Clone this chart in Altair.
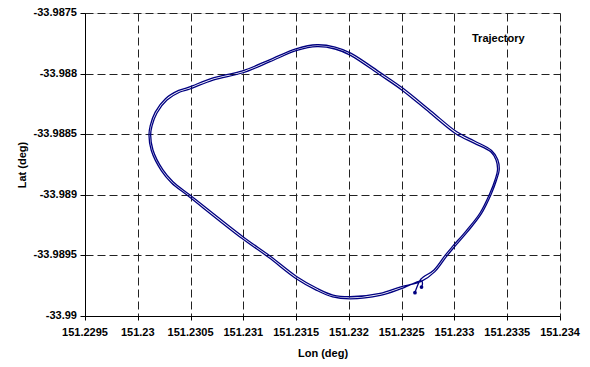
import altair as alt
import pandas as pd

# GPS trajectory: lead-in, two laps of the circuit, and the closing tail
lead_lon = [151.232626, 151.232645]
lead_lat = [-33.989808, -33.989761]

lap1_lon = [151.232683, 151.232806, 151.232911, 151.232986, 151.233109, 151.233242,
            151.233337, 151.233384, 151.233408, 151.233394, 151.233346, 151.233185,
            151.233015, 151.232768, 151.232500, 151.232295, 151.232011, 151.231868,
            151.231698, 151.231508, 151.231253, 151.230997, 151.230713, 151.230495,
            151.230400, 151.230277, 151.230182, 151.230135, 151.230122, 151.230144,
            151.230239, 151.230334, 151.230495, 151.230997, 151.231253, 151.231508,
            151.231698, 151.231850, 151.232011, 151.232295, 151.232484]
lap1_lat = [-33.989695, -33.989620, -33.989500, -33.989422, -33.989299, -33.989150,
            -33.988985, -33.988878, -33.988795, -33.988713, -33.988647, -33.988573,
            -33.988498, -33.988325, -33.988135, -33.988012, -33.987847, -33.987797,
            -33.987778, -33.987809, -33.987902, -33.987993, -33.988053, -33.988127,
            -33.988152, -33.988218, -33.988325, -33.988432, -33.988507, -33.988630,
            -33.988795, -33.988892, -33.989002, -33.989346, -33.989505, -33.989676,
            -33.989771, -33.989827, -33.989841, -33.989813, -33.989761]

lap2_lon = [151.232690, 151.232815, 151.232922, 151.232998, 151.233121, 151.233254,
            151.233350, 151.233398, 151.233424, 151.233410, 151.233352, 151.233190,
            151.233022, 151.232778, 151.232510, 151.232305, 151.232018, 151.231870,
            151.231698, 151.231505, 151.231248, 151.230992, 151.230706, 151.230484,
            151.230387, 151.230262, 151.230165, 151.230118, 151.230106, 151.230128,
            151.230224, 151.230320, 151.230483, 151.230985, 151.231241, 151.231497,
            151.231690, 151.231846, 151.232011, 151.232298, 151.232490]
lap2_lat = [-33.989712, -33.989634, -33.989512, -33.989432, -33.989308, -33.989158,
            -33.988991, -33.988880, -33.988795, -33.988708, -33.988634, -33.988556,
            -33.988480, -33.988308, -33.988119, -33.987996, -33.987831, -33.987781,
            -33.987762, -33.987793, -33.987886, -33.987977, -33.988037, -33.988112,
            -33.988139, -33.988207, -33.988318, -33.988430, -33.988507, -33.988634,
            -33.988802, -33.988902, -33.989014, -33.989359, -33.989518, -33.989690,
            -33.989786, -33.989843, -33.989858, -33.989830, -33.989777]

tail_lon = [151.232690, 151.232697, 151.232688]
tail_lat = [-33.989712, -33.989736, -33.989761]

lon_ticks = [151.2295, 151.23, 151.2305, 151.231, 151.2315, 151.232,
             151.2325, 151.233, 151.2335, 151.234]
lat_ticks = [-33.9875, -33.988, -33.9885, -33.989, -33.9895, -33.99]
lon_tick_labels = ["151.2295", "151.23", "151.2305", "151.231", "151.2315",
                   "151.232", "151.2325", "151.233", "151.2335", "151.234"]
lat_tick_labels = ["-33.9875", "-33.988", "-33.9885", "-33.989", "-33.9895", "-33.99"]

lons = lead_lon + lap1_lon + lap2_lon + tail_lon
lats = lead_lat + lap1_lat + lap2_lat + tail_lat
df = pd.DataFrame({
    "lon": lons,
    "lat": lats,
    "seq": list(range(len(lons))),
    "series": ["Trajectory"] * len(lons),
})
xticks_df = pd.DataFrame({"lon": lon_ticks, "label": lon_tick_labels})
yticks_df = pd.DataFrame({"lat": lat_ticks, "label": lat_tick_labels})

FONT = "Liberation Sans"
NAVY = "#000080"
PLOT_W, PLOT_H = 475, 303


def axis_style(title, values, tick_size, title_pad):
    # tick labels are drawn as bold text layers below
    return alt.Axis(
        title=title, values=values, labels=False,
        tickSize=tick_size, titlePadding=title_pad,
        grid=True, gridColor="#222", gridDash=[8, 4], gridWidth=1, gridOpacity=1,
        domainColor="#000", domainWidth=1, tickColor="#000", tickWidth=1,
        titleFont=FONT, titleFontSize=11, titleFontWeight="bold", titleColor="#000",
    )


x_scale = alt.Scale(domain=[151.2295, 151.234], zero=False, nice=False)
y_scale = alt.Scale(domain=[-33.99, -33.9875], zero=False, nice=False)

x_enc = alt.X("lon:Q", scale=x_scale, axis=axis_style("Lon (deg)", lon_ticks, 4, 27))
y_enc = alt.Y("lat:Q", scale=y_scale, axis=axis_style("Lat (deg)", lat_ticks, 5, 52))

path = alt.Chart(df).mark_line(
    interpolate="catmull-rom", strokeWidth=1.3
).encode(
    x=x_enc,
    y=y_enc,
    order="seq:Q",
    color=alt.Color(
        "series:N",
        scale=alt.Scale(range=[NAVY]),
        legend=alt.Legend(
            title=None, orient="none", legendX=376, legendY=20,
            symbolOpacity=0, symbolSize=1, labelOffset=0, padding=0,
            labelFont=FONT, labelFontSize=11, labelFontWeight="bold",
            labelColor="#000",
        ),
    ),
)

ends = alt.Chart(df).mark_circle(size=14, color=NAVY, opacity=1).encode(
    x=x_enc, y=y_enc
).transform_filter(
    (alt.datum.seq == 0) | (alt.datum.seq == len(lons) - 1)
)

x_labels = alt.Chart(xticks_df).mark_text(
    font=FONT, fontSize=11, fontWeight="bold", color="#000",
    align="center", baseline="middle",
).encode(
    x=alt.X("lon:Q", scale=x_scale),
    y=alt.value(PLOT_H + 17),
    text="label:N",
)

y_labels = alt.Chart(yticks_df).mark_text(
    font=FONT, fontSize=11, fontWeight="bold", color="#000",
    align="right", baseline="middle",
).encode(
    x=alt.value(-8),
    y=alt.Y("lat:Q", scale=y_scale),
    text="label:N",
)

chart = alt.layer(path, ends, x_labels, y_labels).properties(
    width=PLOT_W,
    height=PLOT_H,
    autosize=alt.AutoSizeParams(type="none"),
    padding={"left": 85, "top": 13, "right": 30, "bottom": 51},
).configure_view(
    stroke="#000", strokeWidth=1
).configure(background="white")

chart.save("out.html", embed_options={"renderer": "svg", "actions": False})
